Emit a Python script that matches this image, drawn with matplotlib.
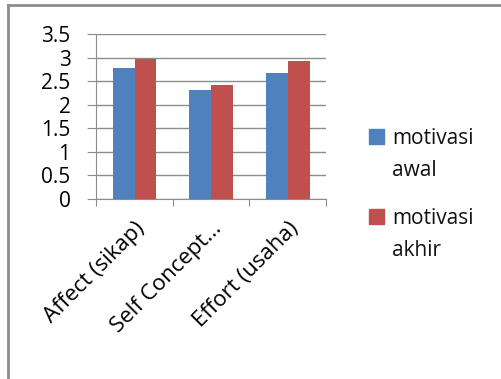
import matplotlib.pyplot as plt
import numpy as np
from matplotlib.lines import Line2D
from matplotlib.patches import Rectangle

# Données
kategori = ["Affect (sikap)", "Self Concept...", "Effort (usaha)"]
motivasi_awal = [2.79, 2.31, 2.68]
motivasi_akhir = [2.97, 2.41, 2.93]
seri = ["motivasi awal", "motivasi akhir"]
warna = ["#4F81BD", "#C0504D"]

plt.rcParams["font.family"] = ["Open Sans", "DejaVu Sans"]

fig = plt.figure(figsize=(5.01, 3.79), dpi=100)
ax = fig.add_axes([0.192, 0.475, 0.459, 0.435])

x = np.arange(len(kategori))
w = 0.283
ax.bar(x - w / 2, motivasi_awal, w, color=warna[0], zorder=3)
ax.bar(x + w / 2, motivasi_akhir, w, color=warna[1], zorder=3)

ax.set_xlim(-0.5, len(kategori) - 0.5)
ax.set_ylim(0, 3.5)
ax.set_yticks(np.arange(0, 3.51, 0.5))
ax.set_yticklabels(["0", "0.5", "1", "1.5", "2", "2.5", "3", "3.5"], fontsize=15)
ax.yaxis.grid(True, color="#8c8c8c", linewidth=1, zorder=0)

# ticks aux frontières des catégories, étiquettes au centre
ax.set_xticks(np.arange(-0.5, len(kategori), 1))
ax.set_xticklabels([])
ax.set_xticks(x, minor=True)
ax.set_xticklabels(kategori, minor=True, rotation=45, ha="right",
                   rotation_mode="anchor", fontsize=16)
ax.tick_params(axis="x", which="minor", length=0, pad=14)
ax.tick_params(axis="x", which="major", length=5, color="#8c8c8c")
ax.tick_params(axis="y", length=6.5, color="#8c8c8c", pad=12)

for s in ["top", "right"]:
    ax.spines[s].set_visible(False)
for s in ["left", "bottom"]:
    ax.spines[s].set_color("#8c8c8c")

# légende à droite (texte sur deux lignes, carré aligné sur la première)
y0 = 0.620
for i, (lbl, c) in enumerate(zip(seri, warna)):
    yb = y0 - i * 0.211
    fig.add_artist(Rectangle((0.7365, yb), 0.030, 0.0396, color=c,
                             transform=fig.transFigure))
    for j, ligne in enumerate(lbl.split(" ")):
        fig.text(0.782, yb - j * 0.0845, ligne, fontsize=15, va="baseline",
                 ha="left", color="#111111")

# bordure du cadre (haut et gauche)
fig.add_artist(Line2D([0.016, 1.0], [0.987, 0.987], color="#8c8c8c", lw=2,
                      transform=fig.transFigure))
fig.add_artist(Line2D([0.016, 0.016], [0.0, 0.987], color="#8c8c8c", lw=2,
                      transform=fig.transFigure))

fig.savefig("out.png", dpi=100)
